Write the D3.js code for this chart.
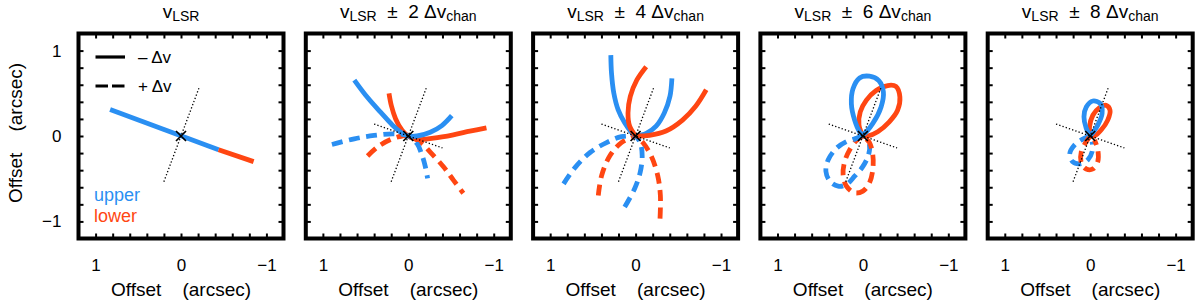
<!DOCTYPE html>
<html><head><meta charset="utf-8">
<script src="https://cdn.jsdelivr.net/npm/d3@7/dist/d3.min.js"></script>
<style>
body{margin:0;background:#fff}
svg{display:block}
text{font-family:"Liberation Sans",Arial,Helvetica,sans-serif;fill:#000}
</style>
</head><body>
<svg id="chart" width="1200" height="307"></svg>
<script>
// ---------------- data ----------------
const channelSteps = [0, 2, 4, 6, 8];
const labelTicks = [1, 0, -1];
const minorTicks = [-1, -0.8, -0.6, -0.4, -0.2, 0, 0.2, 0.4, 0.6, 0.8, 1];
const legendLabels = ["\u2013 \u0394v", "+ \u0394v"];
const sideLabels = ["upper", "lower"];

// dotted reference axes (arcsec)
const minorAxisLine = [[-0.21, 0.56], [0.21, -0.56]];
const majorAxisLine = [[0.4, 0.14], [-0.4, -0.14]];

// panel 1 (v_LSR)
const p1_upper = [[[0.83, 0.31], [-0.44, -0.16]]];
const p1_lower = [[[-0.44, -0.16], [-0.85, -0.30]]];

// panel 2 (± 2 Δv_chan)
const p2_upperMinus = [[[0.632,0.655],[0.477,0.45],[0.322,0.276],[0.187,0.13],[0.071,0.032],[0,0],[-0.103,0],[-0.257,0.044],[-0.393,0.122],[-0.509,0.238]]];
const p2_lowerMinus = [[[0.226,0.5],[0.198,0.354],[0.148,0.2],[0.071,0.064],[0,0],[-0.103,-0.04],[-0.296,-0.025],[-0.528,0.014],[-0.721,0.056],[-0.915,0.095]]];
const p2_upperPlus  = [[[0.894,-0.099],[0.632,-0.033],[0.4,0.006],[0.168,0.025],[0,0],[-0.103,-0.09],[-0.161,-0.226],[-0.2,-0.361],[-0.226,-0.497]]];
const p2_lowerPlus  = [[[0.477,-0.234],[0.361,-0.129],[0.206,-0.04],[0.07,0],[0,0],[-0.141,-0.072],[-0.257,-0.188],[-0.412,-0.361],[-0.528,-0.516],[-0.644,-0.67]]];

// panel 3 (± 4 Δv_chan)
const p3_upperMinus = [[[0.29,0.947],[0.282,0.734],[0.255,0.502],[0.205,0.309],[0.128,0.155],[0.05,0.046],[0,0]],
                       [[-0.425,0.676],[-0.402,0.464],[-0.336,0.27],[-0.24,0.116],[-0.124,0.031],[0,0]]];
const p3_lowerMinus = [[[-0.124,0.812],[-0.015,0.657],[0.062,0.464],[0.089,0.27],[0.07,0.116],[0,0]],
                       [[-0.827,0.541],[-0.703,0.348],[-0.549,0.186],[-0.356,0.058],[-0.162,0.008],[0,0]]];
const p3_upperPlus  = [[[0.843,-0.56],[0.707,-0.367],[0.533,-0.193],[0.34,-0.077],[0.166,-0.008],[0,0]],
                       [[0.128,-0.831],[0.012,-0.618],[-0.054,-0.425],[-0.077,-0.232],[-0.054,-0.077],[0,0]]];
const p3_lowerPlus  = [[[0.437,-0.696],[0.398,-0.464],[0.301,-0.232],[0.166,-0.077],[0,0]],
                       [[-0.286,-0.966],[-0.29,-0.696],[-0.259,-0.464],[-0.182,-0.232],[-0.085,-0.077],[0,0]]];

// panel 4 (± 6 Δv_chan)
const p4_upperMinus = [[[0.116,-0.046],[0,0.012],[-0.116,0.147],[-0.213,0.34],[-0.24,0.514],[-0.186,0.649],[-0.077,0.7],[0.039,0.68],[0.116,0.553],[0.135,0.379],[0.097,0.186],[0.039,0.05],[-0.008,0]]];
const p4_lowerMinus = [[[0,0],[0.046,0.128],[0.031,0.282],[-0.039,0.417],[-0.155,0.533],[-0.29,0.591],[-0.386,0.58],[-0.433,0.456],[-0.406,0.301],[-0.309,0.166],[-0.174,0.05],[-0.058,0],[0,0]]];
const p4_upperPlus  = [[[0,0],[0.077,-0.027],[0.193,-0.066],[0.309,-0.143],[0.406,-0.278],[0.433,-0.414],[0.386,-0.529],[0.29,-0.587],[0.193,-0.568],[0.097,-0.471],[0,-0.356],[-0.066,-0.22],[-0.077,-0.104],[-0.027,-0.019]]];
const p4_lowerPlus  = [[[0,0],[0.077,-0.054],[0.155,-0.162],[0.213,-0.298],[0.232,-0.452],[0.193,-0.587],[0.097,-0.665],[0,-0.645],[-0.077,-0.549],[-0.116,-0.394],[-0.116,-0.22],[-0.077,-0.077],[-0.019,-0.015]]];

// panel 5 (± 8 Δv_chan)
const p5_upperMinus = [[[0,0],[0.046,0.089],[0.073,0.224],[0.046,0.34],[-0.031,0.41],[-0.12,0.379],[-0.139,0.263],[-0.089,0.128],[-0.031,0.039],[0,0]]];
const p5_lowerMinus = [[[0,0],[0.008,0.108],[-0.031,0.243],[-0.108,0.332],[-0.186,0.359],[-0.232,0.301],[-0.205,0.186],[-0.128,0.07],[-0.05,0],[0,0]]];
const p5_upperPlus  = [[[0,0],[0.093,-0.039],[0.182,-0.104],[0.24,-0.209],[0.209,-0.298],[0.116,-0.325],[0.027,-0.278],[-0.023,-0.182],[-0.023,-0.066]]];
const p5_lowerPlus  = [[[0,0],[0.046,-0.066],[0.104,-0.182],[0.104,-0.317],[0.046,-0.386],[-0.031,-0.386],[-0.089,-0.298],[-0.089,-0.162],[-0.05,-0.046]]];

// ---------------- build ----------------
const BLUE = "#2a8ff2", RED = "#ff4612";
const panels = [
  {step: 0, dotted: [minorAxisLine], curves: [
    {branches: p1_upper, color: BLUE, dashed: false},
    {branches: p1_lower, color: RED, dashed: false}]},
  {step: 2, dotted: [minorAxisLine, majorAxisLine], curves: [
    {branches: p2_lowerPlus, color: RED, dashed: true},
    {branches: p2_upperPlus, color: BLUE, dashed: true},
    {branches: p2_lowerMinus, color: RED, dashed: false},
    {branches: p2_upperMinus, color: BLUE, dashed: false}]},
  {step: 4, dotted: [minorAxisLine, majorAxisLine], curves: [
    {branches: p3_lowerPlus, color: RED, dashed: true},
    {branches: p3_upperPlus, color: BLUE, dashed: true},
    {branches: p3_upperMinus, color: BLUE, dashed: false},
    {branches: p3_lowerMinus, color: RED, dashed: false}]},
  {step: 6, dotted: [minorAxisLine, majorAxisLine], curves: [
    {branches: p4_upperPlus, color: BLUE, dashed: true},
    {branches: p4_lowerPlus, color: RED, dashed: true},
    {branches: p4_lowerMinus, color: RED, dashed: false},
    {branches: p4_upperMinus, color: BLUE, dashed: false}]},
  {step: 8, dotted: [minorAxisLine, majorAxisLine], curves: [
    {branches: p5_upperPlus, color: BLUE, dashed: true},
    {branches: p5_lowerPlus, color: RED, dashed: true},
    {branches: p5_lowerMinus, color: RED, dashed: false},
    {branches: p5_upperMinus, color: BLUE, dashed: false}]}
];

const svg = d3.select("#chart");
const left0 = 78.5, step = 227.3, size = 205, top0 = 33.5;
const fmt = d => d < 0 ? "\u2212" + Math.abs(d) : String(d);
const NB = "\u00A0";

panels.forEach((p, i) => {
  const L = left0 + i * step;
  const x = d3.scaleLinear().domain([1.2, -1.2]).range([L, L + size]);
  const y = d3.scaleLinear().domain([-1.2, 1.2]).range([top0 + size, top0]);
  const g = svg.append("g");
  const line = d3.line().x(d => x(d[0])).y(d => y(d[1])).curve(d3.curveCatmullRom.alpha(0.5));

  const cid = "clip" + i;
  svg.append("clipPath").attr("id", cid).append("rect")
    .attr("x", L).attr("y", top0).attr("width", size).attr("height", size);
  const plot = g.append("g").attr("clip-path", `url(#${cid})`);

  p.curves.forEach(c => {
    c.branches.forEach(b => {
      plot.append("path").attr("d", line(b)).attr("fill", "none")
        .attr("stroke", c.color).attr("stroke-width", 4.8)
        .attr("stroke-dasharray", c.dashed ? "11,6.5" : null)
        .attr("stroke-linecap", "butt").attr("stroke-linejoin", "round");
    });
  });

  p.dotted.forEach(dl => {
    plot.append("path").attr("d", d3.line().x(d => x(d[0])).y(d => y(d[1]))(dl))
      .attr("fill", "none").attr("stroke", "#000").attr("stroke-width", 1.3)
      .attr("stroke-dasharray", "1.3,2.1");
  });

  const cx = x(0), cy = y(0), m = 5;
  plot.append("path").attr("d", `M${cx-m},${cy-m}L${cx+m},${cy+m}M${cx-m},${cy+m}L${cx+m},${cy-m}`)
    .attr("stroke", "#000").attr("stroke-width", 1.7);

  const tk = 5;
  const axB = g.append("g").attr("transform", `translate(0,${top0 + size})`)
    .call(d3.axisBottom(x).tickValues(minorTicks).tickSize(-tk).tickFormat(""));
  const axT = g.append("g").attr("transform", `translate(0,${top0})`)
    .call(d3.axisTop(x).tickValues(minorTicks).tickSize(-tk).tickFormat(""));
  const axL = g.append("g").attr("transform", `translate(${L},0)`)
    .call(d3.axisLeft(y).tickValues(minorTicks).tickSize(-tk).tickFormat(""));
  const axR = g.append("g").attr("transform", `translate(${L + size},0)`)
    .call(d3.axisRight(y).tickValues(minorTicks).tickSize(-tk).tickFormat(""));
  [axB, axT, axL, axR].forEach(a => {
    a.select(".domain").remove();
    a.selectAll(".tick line").attr("stroke", "#000").attr("stroke-width", 2);
  });

  g.append("rect").attr("x", L).attr("y", top0).attr("width", size).attr("height", size)
    .attr("fill", "none").attr("stroke", "#000").attr("stroke-width", 4);

  const xl = g.append("g").attr("transform", `translate(0,${top0 + size + 17})`)
    .call(d3.axisBottom(x).tickValues(labelTicks).tickSize(0).tickFormat(fmt));
  xl.select(".domain").remove();
  xl.selectAll("text").attr("font-size", 17).attr("font-family", "Liberation Sans, Arial, sans-serif");

  g.append("text").attr("x", x(0)).attr("y", 296).attr("text-anchor", "middle")
    .attr("font-size", 19).text("Offset" + NB + NB + NB + NB + "(arcsec)");

  const t = g.append("text").attr("x", x(0)).attr("y", 18).attr("text-anchor", "middle").attr("font-size", 19);
  t.append("tspan").text("v");
  t.append("tspan").attr("font-size", 14).attr("dy", 3).text("LSR");
  if (p.step > 0) {
    t.append("tspan").attr("dy", -3).text(NB + NB + "\u00B1" + NB + NB + p.step + NB + "\u0394v");
    t.append("tspan").attr("font-size", 14).attr("dy", 3).text("chan");
  }

  if (i === 0) {
    const yl = g.append("g").attr("transform", `translate(${L - 14},0)`)
      .call(d3.axisLeft(y).tickValues(labelTicks).tickSize(0).tickFormat(fmt));
    yl.select(".domain").remove();
    yl.selectAll("text").attr("font-size", 17).attr("font-family", "Liberation Sans, Arial, sans-serif");
    g.append("text").attr("transform", `translate(22,${y(0) - 3}) rotate(-90)`)
      .attr("text-anchor", "middle").attr("font-size", 19)
      .text("Offset" + NB + NB + NB + NB + "(arcsec)");
    const lx0 = 95.5, lx1 = 125;
    [57, 86].forEach((ly, k) => {
      g.append("line").attr("x1", lx0).attr("x2", lx1).attr("y1", ly).attr("y2", ly)
        .attr("stroke", "#000").attr("stroke-width", 3.2)
        .attr("stroke-dasharray", k === 1 ? "12.5,4" : null);
      g.append("text").attr("x", 138).attr("y", ly + 6).attr("font-size", 17).text(legendLabels[k]);
    });
    g.append("text").attr("x", 94).attr("y", 201).attr("font-size", 18).style("fill", BLUE).text(sideLabels[0]);
    g.append("text").attr("x", 94).attr("y", 222).attr("font-size", 18).style("fill", RED).text(sideLabels[1]);
  }
});
</script>
</body></html>
